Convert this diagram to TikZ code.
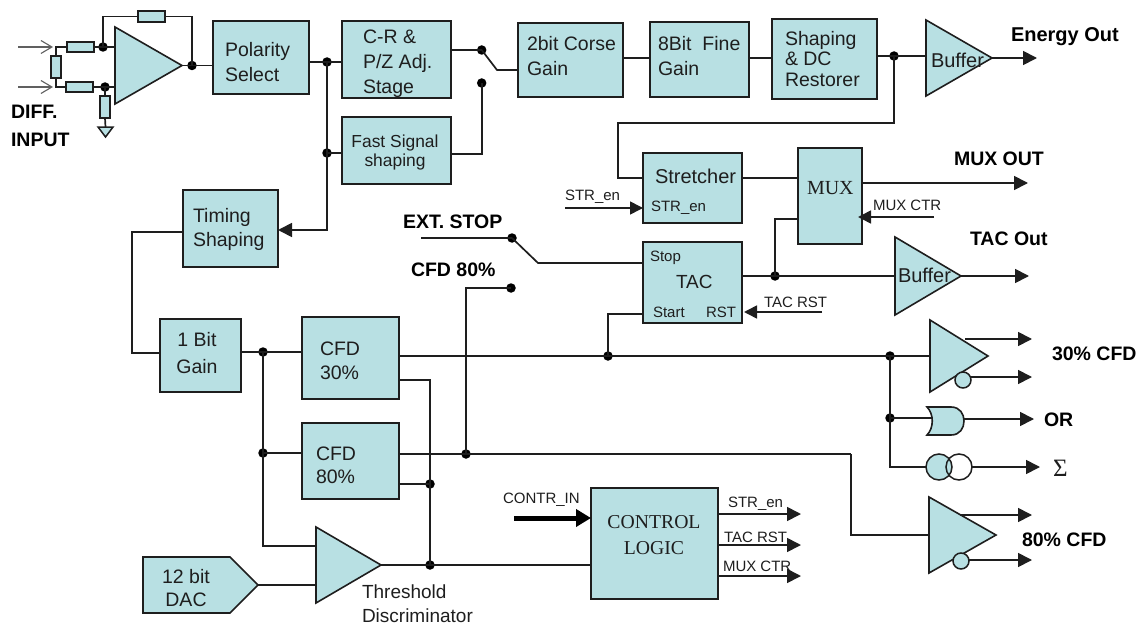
\documentclass[tikz,border=0pt]{standalone}
\usepackage{fontspec}
\setmainfont{Liberation Sans}
\newfontfamily\serifface{Liberation Serif}
\usetikzlibrary{arrows.meta}
\definecolor{blockfill}{HTML}{B8E0E3}
\definecolor{ink}{HTML}{1E1E1E}
\newcommand\fsz[2]{\fontsize{#1}{#2}\selectfont}
\tikzset{
  blockbox/.style={draw=ink,fill=blockfill,line width=2.2pt,inner sep=0pt,outer sep=0pt},
  bbox/.style={inner sep=0pt,outer sep=0pt},
  resbox/.style={draw=ink,fill=blockfill,line width=1.5pt,inner sep=0pt,outer sep=0pt},
  trishape/.style={draw=ink,fill=blockfill,line width=1.6pt,line join=miter},
  wire/.style={draw=ink,line width=1.7pt},
  fatwire/.style={draw=ink,line width=2.3pt},
  jdot/.style={circle,fill=black,draw=none,minimum size=9.5pt,inner sep=0pt,outer sep=0pt},
  sig/.style={wire,-{Triangle[length=14pt,width=14pt]}},
  inhead/.style={draw=gray!75!black,line width=1.1pt,-{Straight Barb[length=11pt,width=13pt]}},
  ctl/.style={draw=ink,line width=1.6pt,-{Triangle[length=13pt,width=13pt]}},
  bubble/.style={circle,draw=ink,fill=blockfill,line width=1.5pt,minimum size=16pt,inner sep=0pt,outer sep=0pt},
  lbl/.style={text=ink,inner sep=0pt,outer sep=0pt,anchor=west,align=left},
  lblc/.style={text=ink,inner sep=0pt,outer sep=0pt,anchor=center,align=center},
  bold/.style={text=black,inner sep=0pt,outer sep=0pt,anchor=west,align=left,font=\bfseries\fsz{19.5}{28}},
}
% \blk{style}{name}{x1}{y1}{x2}{y2}
\newcommand\blk[6]{\node[#1,minimum width={(#5-#3)*1pt},minimum height={(#6-#4)*1pt}] (#2) at ({(#3+#5)/2},{(#4+#6)/2}) {};}
\newcommand\tri[5]{\blk{bbox}{#1}{#2}{#3}{#4}{#5}
  \draw[trishape] (#1.north west) -- (#1.east) -- (#1.south west) -- cycle;}
\begin{document}
\begin{tikzpicture}[x=1pt,y=-1pt]
\useasboundingbox (0,0) rectangle (1146,626);
% blocks
\blk{blockbox}{pol}{213}{21}{309}{94}
\blk{blockbox}{crz}{342}{21}{451}{98}
\blk{blockbox}{fast}{342}{117}{451}{184}
\blk{blockbox}{corse}{518}{23}{623}{97}
\blk{blockbox}{fine}{650}{22}{749}{97}
\blk{blockbox}{shape}{772}{19}{877}{99}
\blk{blockbox}{stretch}{643}{153}{742}{223}
\blk{blockbox}{mux}{798}{148}{862}{244}
\blk{blockbox}{tac}{643}{242}{742}{323}
\blk{blockbox}{timing}{183}{190}{278}{267}
\blk{blockbox}{gain}{160}{319}{241}{392}
\blk{blockbox}{cfdA}{302}{317}{399}{399}
\blk{blockbox}{cfdB}{302}{423}{399}{499}
\blk{blockbox}{ctrl}{591}{488}{718}{599}
% triangles
\tri{amp}{115}{27}{182}{104}
\tri{bufE}{926}{20}{992}{96}
\tri{bufT}{895}{237}{961}{315}
\tri{discA}{930}{320}{988}{392}
\tri{discB}{929}{497}{996}{573}
\tri{thr}{316}{527}{381}{603}
% DAC
\blk{bbox}{dac}{143}{557}{258}{613}
\draw[trishape] (dac.north west) -- (230,557) -- (dac.east) -- (230,613) -- (dac.south west) -- cycle;
% OR gate
\draw[trishape] (927,407) -- (951,407) .. controls (960,407) and (964,414) .. (964,421) .. controls (964,428) and (960,435) .. (951,435) -- (927,435) .. controls (934,428) and (934,414) .. (927,407) -- cycle;
\coordinate (orin) at (933,418);
\coordinate (orout) at (964,419);
% sum circles
\node[circle,draw=ink,fill=blockfill,line width=1.5pt,minimum size=26pt,inner sep=0pt,outer sep=0pt] (sumA) at (939,467) {};
\node[circle,draw=ink,line width=1.5pt,minimum size=26pt,inner sep=0pt,outer sep=0pt] (sumB) at (959,467) {};
% resistors
\blk{resbox}{rf}{138}{11}{165}{22}
\blk{resbox}{ra}{67}{42}{94}{52}
\blk{resbox}{rb}{66}{82}{93}{92}
\blk{resbox}{rc}{51}{56}{61}{78}
\blk{resbox}{rg}{100}{96}{110}{118}
\blk{bbox}{gnd}{98}{127}{113}{137}
\draw[resbox] (gnd.north west) -- (gnd.north east) -- (gnd.south) -- cycle;
% junctions
\node[jdot] (jf) at (103,47) {};
\node[jdot] (jb) at (105,87) {};
\node[jdot] (jo) at (192,65.5) {};
\node[jdot] (jp) at (327,62) {};
\node[jdot] (jq) at (327,153) {};
\node[jdot] (swa) at (481.7,50) {};
\node[jdot] (swb) at (481.7,83) {};
\node[jdot] (je) at (894,56) {};
\node[jdot] (jt) at (775,276) {};
\node[jdot] (sta) at (512,238) {};
\node[jdot] (stb) at (511,288) {};
\node[jdot] (js) at (608,356) {};
\node[jdot] (jm) at (890,356) {};
\node[jdot] (jor) at (890,418) {};
\node[jdot] (jg) at (263,352) {};
\node[jdot] (jh) at (263,453) {};
\node[jdot] (jk) at (466,454) {};
\node[jdot] (jl) at (430,484) {};
\node[jdot] (jn) at (430,565) {};
% free ends
\coordinate (inA) at (18,47);
\coordinate (inB) at (18,87);
\coordinate (busA) at (56,47);
\coordinate (busB) at (56,87);
\coordinate (swt) at (497,70);
\coordinate (stbend) at (538,263);
\coordinate (extstop) at (421,238);
\coordinate (strin) at (565,208);
\coordinate (muxin) at (934,217);
\coordinate (muxtip) at (858,217);
\coordinate (tacin) at (822,312);
\coordinate (tactip) at (744,312);
\coordinate (outE) at (1037,58);
\coordinate (outM) at (1028,183);
\coordinate (outT) at (1029,276);
\coordinate (a30s) at (965,339);
\coordinate (a30e) at (1032,339);
\coordinate (a30n) at (1032,377);
\coordinate (aor) at (1034,419);
\coordinate (asum) at (1040,467);
\coordinate (a80s) at (960,515);
\coordinate (a80e) at (1032,515);
\coordinate (a80n) at (1032,560);
\coordinate (ctin) at (514,518);
\coordinate (o1) at (801,514);
\coordinate (o2) at (801,545);
\coordinate (o3) at (801,576);
\coordinate (cfdBend) at (851,454);
% bubbles
\node[bubble] (bubA) at (963,380) {};
\node[bubble] (bubB) at (961,561) {};
% front-end wires
\draw[inhead] (inA) -- (53,47);
\draw[inhead] (inB) -- (53,87);
\draw[wire] (ra.west) -- (busA) -- (rc.north);
\draw[wire] (rb.west) -- (busB) -- (rc.south);
\draw[wire] (ra.east) -- (jf.center) -- (amp.west |- jf);
\draw[wire] (rb.east) -- (jb.center) -- (amp.west |- jb);
\draw[wire] (jb.center) -- (rg.north);
\draw[wire] (rg.south) -- (gnd.north);
\draw[wire] (jf.center) |- (rf.west);
\draw[wire] (rf.east) -| (jo.center);
\draw[wire] (amp.east) -- (pol.west |- amp.east);
% signal chain
\draw[fatwire] (pol.east |- jp) -- (jp.center) -- (crz.west |- jp);
\draw[wire] (jq.center) -- (fast.west |- jq);
\draw[wire,-{Triangle[length=14pt,width=14pt]}] (jp.center) |- (timing.east |- 0,230);
\draw[wire] (crz.east |- swa) -- (swa.center);
\draw[wire] (swa.center) -- (swt) -- (corse.west |- swt);
\draw[wire] (fast.east |- 0,154) -| (swb.center);
\draw[wire] (corse.east |- 0,58) -- (fine.west |- 0,58);
\draw[wire] (fine.east |- 0,58) -- (shape.west |- 0,58);
\draw[fatwire] (shape.east |- je) -- (je.center) -- (bufE.west |- je);
\draw[sig] (bufE.east) -- (outE);
\draw[wire] (je.center) |- (618,123) |- (stretch.west |- 0,178);
\draw[wire] (timing.west |- 0,232) -| (132,353) -- (gain.west |- 0,353);
% stretcher, mux, tac
\draw[fatwire] (stretch.east |- 0,178) -- (mux.west |- 0,178);
\draw[ctl] (strin) -- (stretch.west |- strin);
\draw[sig] (mux.east |- outM) -- (outM);
\draw[ctl] (muxin) -- (muxtip);
\draw[wire] (tac.east |- jt) -- (bufT.west |- jt);
\draw[fatwire] (jt.center) |- (mux.west |- 0,219);
\draw[sig] (bufT.east) -- (outT);
\draw[wire] (extstop) -- (sta.center);
\draw[wire] (sta.center) -- (stbend) -- (tac.west |- stbend);
\draw[wire] (jk.center) |- (stb.center);
\draw[ctl] (tacin) -- (tactip);
\draw[wire] (tac.west |- 0,314) -| (js.center);
% CFD
\draw[fatwire] (gain.east |- jg) -- (jg.center) -- (cfdA.west |- jg);
\draw[wire] (jg.center) |- (thr.west |- 0,546);
\draw[wire] (jh.center) -- (cfdB.west |- jh);
\draw[wire] (cfdA.east |- 0,356) -- (js.center) -- (jm.center) -- (discA.west |- jm);
\draw[wire] (jm.center) -- (jor.center) |- (sumA.west);
\draw[fatwire] (jor.center) -- (orin);
\draw[sig] (orout) -- (aor);
\draw[sig] (sumB.east) -- (asum);
\draw[sig] (a30s) -- (a30e);
\draw[sig] (bubA.east |- a30n) -- (a30n);
\draw[sig] (a80s) -- (a80e);
\draw[sig] (bubB.east |- a80n) -- (a80n);
\draw[fatwire] (cfdB.east |- jk) -- (jk.center) -- (cfdBend);
\draw[wire] (cfdBend) |- (discB.west |- 0,535);
\draw[wire] (cfdA.east |- 0,380) -| (jn.center);
\draw[wire] (cfdB.east |- jl) -- (jl.center);
\draw[fatwire] (thr.east) -- (jn.center) -- (ctrl.west |- jn);
\draw[wire] (dac.east) -- (thr.west |- dac.east);
% control logic
\draw[draw=black,line width=5pt,-{Triangle[length=15pt,width=17pt]}] (ctin) -- (ctrl.west |- ctin);
\draw[sig] (ctrl.east |- o1) -- (o1);
\draw[sig] (ctrl.east |- o2) -- (o2);
\draw[sig] (ctrl.east |- o3) -- (o3);
% text in blocks
\node[lbl,font=\fsz{19.5}{24.5}] (tpol) at (225,62) {Polarity\\Select};
\node[lbl,font=\fsz{19.5}{25}] (tcrz) at (363,64) {C-R \&\\P/Z Adj.\\Stage};
\node[lblc,font=\fsz{17.4}{19}] (tfast) at (395,153) {Fast Signal\\shaping};
\node[lbl,font=\fsz{19.5}{24.5}] (tcorse) at (527,56) {2bit Corse\\Gain};
\node[lbl,font=\fsz{19.5}{24.5}] (tfine) at (658,56) {8Bit\ \ Fine\\Gain};
\node[lbl,font=\fsz{19.5}{20.5}] (tshape) at (785,59) {Shaping\\\& DC\\Restorer};
\node[lbl,font=\fsz{19.5}{24}] (ttim) at (193,229) {Timing\\Shaping};
\node[lblc,font=\fsz{19.5}{27}] (tgain) at (197,353) {1 Bit\\Gain};
\node[lbl,font=\fsz{19.5}{24}] (tcfa) at (320,361) {CFD\\30\%};
\node[lbl,font=\fsz{19.5}{23}] (tcfb) at (316,465) {CFD\\80\%};
\node[lblc,font=\fsz{19.5}{23}] (tdac) at (186,588) {12 bit\\DAC};
\node[lbl,font=\fsz{19}{24}] (tthr) at (362,603.5) {Threshold\\Discriminator};
\node[lbl,font=\fsz{20}{24}] (tbe) at (931,60) {Buffer};
\node[lbl,font=\fsz{20}{24}] (tbt) at (898,275) {Buffer};
\node[lbl,font=\fsz{20}{24}] (tstr) at (655,176) {Stretcher};
\node[lbl,font=\fsz{15}{18}] (tstre) at (651,208) {STR\_en};
\node[lbl,font=\fsz{15}{18}] (tstop) at (650,258) {Stop};
\node[lbl,font=\fsz{19}{24}] (ttac) at (676,282) {TAC};
\node[lbl,font=\fsz{15}{18}] (tstart) at (653,312) {Start};
\node[lbl,font=\fsz{15}{18}] (trst) at (706,312) {RST};
\node[lbl,font=\serifface\fsz{20}{24}] (tmux) at (807,188) {MUX};
\node[lblc,font=\serifface\fsz{19.7}{26}] (tctl) at (654,535) {CONTROL\\LOGIC};
% small labels
\node[lbl,font=\fsz{15}{18}] (lstr) at (565,197) {STR\_en};
\node[lbl,font=\fsz{15}{18}] (lmux) at (873,205) {MUX CTR};
\node[lbl,font=\fsz{15}{18}] (ltac) at (764,302) {TAC RST};
\node[lbl,font=\fsz{15}{18}] (lci) at (503,500) {CONTR\_IN};
\node[lbl,font=\fsz{15}{18}] (lo1) at (728,504) {STR\_en};
\node[lbl,font=\fsz{15}{18}] (lo2) at (724,537) {TAC RST};
\node[lbl,font=\fsz{15}{18}] (lo3) at (723,566) {MUX CTR};
% bold labels
\node[bold] (ldiff) at (11,112) {DIFF.};
\node[bold] (linp) at (11,140) {INPUT};
\node[bold,font=\bfseries\fsz{19.5}{24}] (lext) at (403,222) {EXT. STOP};
\node[bold] (lcfd) at (411,270) {CFD 80\%};
\node[bold,font=\bfseries\fsz{20}{24}] (lene) at (1011,37) {Energy Out};
\node[bold] (lmuxo) at (954,159) {MUX OUT};
\node[bold] (ltaco) at (970,239) {TAC Out};
\node[bold] (l30) at (1052,354) {30\% CFD};
\node[bold] (lor) at (1044,420) {OR};
\node[lbl,font=\serifface\fsz{25}{26}] (lsum) at (1053,468) {Σ};
\node[bold] (l80) at (1022,540) {80\% CFD};
\end{tikzpicture}
\end{document}
